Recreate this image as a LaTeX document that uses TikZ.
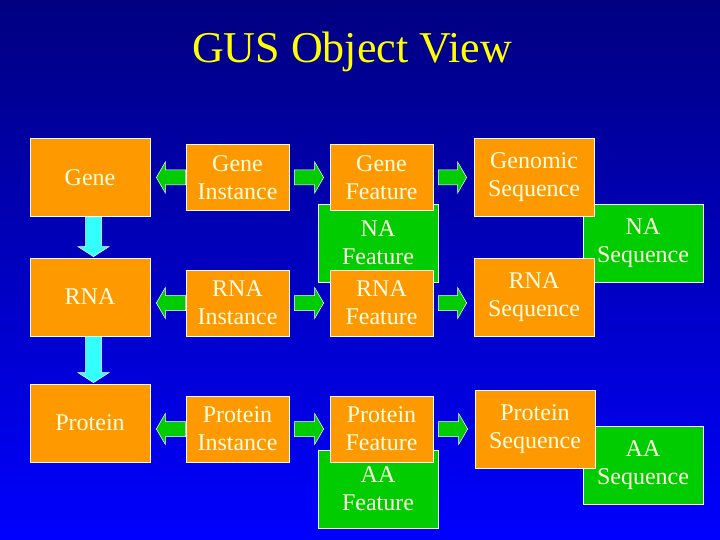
\documentclass[tikz,border=0pt]{standalone}
\usepackage{fontspec}
\setmainfont{Liberation Serif}
\usetikzlibrary{calc}

\definecolor{fondoarriba}{RGB}{0,0,128}
\definecolor{fondoabajo}{RGB}{0,0,255}
\definecolor{naranja}{RGB}{255,153,0}
\definecolor{verde}{RGB}{0,204,0}
\definecolor{cian}{RGB}{51,255,255}
\definecolor{texto}{RGB}{255,255,228}
\definecolor{amarillo}{RGB}{255,255,0}

\begin{document}
\begin{tikzpicture}[
		x=1pt, y=-1pt,
		titulo/.style={anchor=base, text=amarillo, font=\fontsize{44}{50}\selectfont},
		caja/.style={draw=white, line width=0.7pt, text=texto, align=center, inner sep=0pt,
			font=\fontsize{24}{28}\selectfont},
		objeto/.style={caja, fill=naranja, minimum width=120pt, minimum height=78pt},
		vista/.style={caja, fill=naranja, minimum width=103pt, minimum height=66pt},
		grupo/.style={caja, fill=verde, minimum width=120pt, minimum height=78pt},
		flecha/.style n args={4}{draw=white, line width=0.5pt, fill=#1, line join=miter,
			to path={let \p1=(\tikztostart), \p2=(\tikztotarget), \p3=($(\p2)!#4!(\p1)$) in
				($(\p1)!#2!90:(\p2)$) -- ($(\p3)!#2!90:(\p2)$) -- ($(\p3)!#3!90:(\p2)$) -- (\p2)
				-- ($(\p3)!#3!-90:(\p2)$) -- ($(\p3)!#2!-90:(\p2)$) -- ($(\p1)!#2!-90:(\p2)$) -- cycle}},
		lateral/.style={flecha={verde}{7.5pt}{15.5pt}{9pt}},
		bajada/.style={flecha={cian}{8pt}{15.5pt}{10pt}}
	]
	% Fondo
	\useasboundingbox (0,0) rectangle (720,540);
	\shade[top color=fondoarriba, bottom color=fondoabajo] (0,0) rectangle (720,540);
	\node[titulo] (titulo) at (352,63) {GUS Object View};

	% Cajas verdes (debajo)
	\node[grupo] (nafeat) at (378,243) {NA\\Feature};
	\node[grupo] (aafeat) at (378,489) {AA\\Feature};
	\node[grupo] (naseq) at (643,243) {NA\\Sequence};
	\node[grupo] (aaseq) at (643,465.5) {AA\\Sequence};

	% Primera columna
	\node[objeto] (gene) at (90,177.5) {Gene};
	\node[objeto] (rna) at (90,297) {RNA};
	\node[objeto] (protein) at (90,423) {Protein};

	% Instancias
	\node[vista] (geneinst) at (237.5,177.5) {Gene\\Instance};
	\node[vista] (rnainst) at (237.5,303) {RNA\\Instance};
	\node[vista] (protinst) at (237.5,429) {Protein\\Instance};

	% Features
	\node[vista] (genefeat) at (381.5,177.5) {Gene\\Feature};
	\node[vista] (rnafeat) at (381.5,303) {RNA\\Feature};
	\node[vista] (protfeat) at (381.5,429) {Protein\\Feature};

	% Secuencias
	\node[objeto] (genomicseq) at (534,177.5) {Genomic\\Sequence};
	\node[objeto] (rnaseq) at (534,297) {RNA\\Sequence};
	\node[objeto] (protseq) at (535,429) {Protein\\Sequence};

	% Flechas hacia abajo
	\draw[bajada] ([xshift=3.5pt]gene.south) to ([xshift=3.5pt,yshift=1pt]rna.north);
	\draw[bajada] ([xshift=3.5pt]rna.south) to ([xshift=3.5pt,yshift=1pt]protein.north);

	% Flechas laterales
	\draw[lateral] (geneinst.west) to ([xshift=6pt]gene.east);
	\draw[lateral] (rnainst.west) to ($(rna.east |- rnainst.west)+(6pt,0)$);
	\draw[lateral] (protinst.west) to ($(protein.east |- protinst.west)+(6pt,0)$);
	\draw[lateral] ([xshift=5pt]geneinst.east) to ([xshift=-6pt]genefeat.west);
	\draw[lateral] ([xshift=5pt]rnainst.east) to ([xshift=-6pt]rnafeat.west);
	\draw[lateral] ([xshift=5pt]protinst.east) to ([xshift=-6pt]protfeat.west);
	\draw[lateral] ([xshift=5pt]genefeat.east) to ([xshift=-7pt]genomicseq.west);
	\draw[lateral] ([xshift=5pt]rnafeat.east) to ($(rnaseq.west |- rnafeat.east)+(-7pt,0)$);
	\draw[lateral] ([xshift=5pt]protfeat.east) to ([xshift=-7pt]protseq.west);
\end{tikzpicture}
\end{document}
